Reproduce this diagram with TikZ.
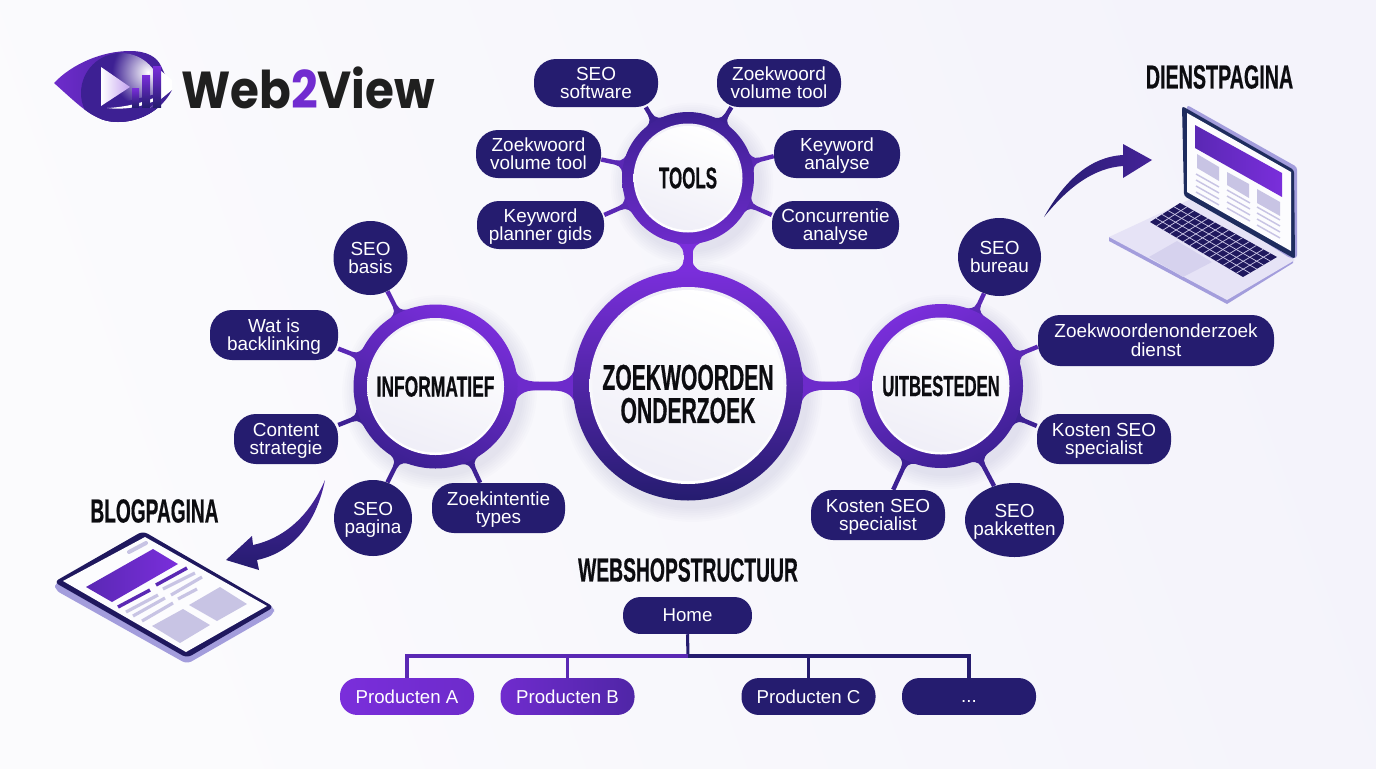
\documentclass[tikz,border=0pt]{standalone}
\usepackage{graphicx}
\usepackage{fontspec}
\usetikzlibrary{shapes.geometric,calc}
\setmainfont{Liberation Sans}
\newfontfamily\headfont[FakeStretch=0.6,BoldFeatures={FakeBold=0.5}]{Liberation Sans}
\newfontfamily\logofont[FakeStretch=0.9]{Poppins}
\definecolor{navy}{HTML}{251C6F}
\definecolor{vio}{HTML}{7A2EDB}
\definecolor{midv}{HTML}{5A28B4}
\definecolor{darkv}{HTML}{3D2093}
\definecolor{ink}{HTML}{0C0C10}
\definecolor{lidnavy}{HTML}{1E2C5E}
\definecolor{lav}{HTML}{C8C4E4}
\definecolor{bga}{HTML}{FBFBFD}
\definecolor{bgb}{HTML}{F4F3FB}
\definecolor{deck}{HTML}{E6E3F6}
\definecolor{pad}{HTML}{D6D2EE}
\definecolor{rim}{HTML}{A39DDC}
\pgfdeclarelayer{bottom}
\pgfdeclarelayer{background}
\pgfsetlayers{bottom,background,main}
% two centred lines whose box is measured on cap height only
\newcommand\lf[2]{\vphantom{A}\smash{\makebox[0pt]{#1}}\\\smash{\makebox[0pt]{#2}}}
\tikzset{
  leafbox/.style n args={2}{rectangle,rounded corners=16.5pt,fill=navy,text=white,inner sep=0pt,
    minimum width=#1*0.75pt,minimum height=#2*0.75pt,align=center,
    font=\fontsize{14.2pt}{13.9pt}\selectfont},
  leafoval/.style n args={2}{ellipse,fill=navy,text=white,inner sep=0pt,
    minimum width=#1*0.75pt,minimum height=#2*0.75pt,align=center,
    font=\fontsize{14.2pt}{13.9pt}\selectfont},
  hubring/.style={circle,inner sep=0pt,minimum size=#1*1.5pt},
  hubdisc/.style={circle,inner sep=0pt,minimum size=#1*1.5pt,top color=white,bottom color=white!72!lav,
    shading angle=-20,text=ink,align=center},
  headtext/.style={text=ink,inner sep=0pt,align=center,font=\headfont\bfseries\fontsize{#1pt}{#1pt}\selectfont},
  treeline/.style={line width=2.3pt},
  treebox/.style={rectangle,rounded corners=13pt,inner sep=0pt,minimum width=100.5pt,minimum height=27.7pt,text=white,
    font=\fontsize{14pt}{14pt}\selectfont},
}
% hub, leaf, anchor angle, ring radius, half width, flare, length, colour
\newcommand\hublink[8]{%
  \pgfmathanglebetweenpoints{\pgfpointanchor{#1}{center}}{\pgfpointanchor{#2}{#3}}%
  \let\linkang\pgfmathresult
  \pgfmathsetmacro\sx{sqrt((#4)*(#4)-(#6)*(#6))-0.6}%
  \pgfmathsetmacro\kk{(#6-#5)*0.55}%
  \pgfmathsetmacro\cx{\sx+\kk*(#6)/(#4)}%
  \pgfmathsetmacro\cy{#6-\kk*\sx/(#4)}%
  \pgfmathsetmacro\dx{#4+#7*0.2}%
  \pgfmathsetmacro\ex{#4+#7}%
  \draw[#8,line width=#5*1.5pt] (#1.center) -- (#2.#3);
  \begin{scope}[shift={(#1.center)},rotate=\linkang]
    \fill[#8] (\sx,{-#6}) .. controls (\cx,{-\cy}) and (\dx,{-#5}) .. (\ex,{-#5})
      -- (\ex,{#5}) .. controls (\dx,{#5}) and (\cx,\cy) .. (\sx,{#6}) -- cycle;
  \end{scope}}
\newcommand\softshadow[2]{%
  \foreach \k in {1,...,7}{\fill[navy,opacity=0.012] ($(#1.center)+(4,6)$) circle[radius={#2+\k*2.2}];}}
\begin{document}
\begin{tikzpicture}[x=0.75pt,y=-0.75pt]
\useasboundingbox (0,0) rectangle (1376,768);
\begin{pgfonlayer}{bottom}
  \shade[left color=bga,right color=bgb,shading angle=110] (0,0) rectangle (1376,768);
\end{pgfonlayer}

% ---------- hubs
\node[hubring=115,top color=vio,bottom color=navy] (center) at (688,385.5) {};
\node[hubring=66,top color=darkv,bottom color=vio!85!navy] (tools) at (688,178) {};
\node[hubring=82,top color=vio,bottom color=darkv,shading angle=-25] (info) at (435.5,386.5) {};
\node[hubring=82,top color=vio,bottom color=darkv,shading angle=25] (uit) at (941,386) {};
\foreach \h/\r in {center/98.5,tools/54.5,info/68.5,uit/68.5}{
  \shade[top color=white!72!lav,bottom color=white] (\h.center) circle[radius=\r];
}
\node[hubdisc=95.5] (centerdisc) at (center.center) {};
\node[headtext=27,inner sep=0pt,font=\headfont\bfseries\fontsize{27pt}{24.8pt}\selectfont] (centerlabel) at (688,394) {\scalebox{.977}[1]{ZOEKWOORDEN}\\\scalebox{.977}[1]{ONDERZOEK}};
\node[hubdisc=52,font=\headfont\bfseries\fontsize{22.5pt}{22pt}\selectfont] (toolsdisc) at (tools.center) {\scalebox{.94}[1]{TOOLS}};
\node[hubdisc=66,font=\headfont\bfseries\fontsize{21.8pt}{22pt}\selectfont] (infodisc) at (info.center) {INFORMATIEF};
\node[hubdisc=66,font=\headfont\bfseries\fontsize{21.8pt}{22pt}\selectfont] (uitdisc) at (uit.center) {\scalebox{.955}[1]{UITBESTEDEN}};

% ---------- leaves: tools
\node[leafbox={124}{48}] (a1) at (596,83) {\lf{SEO}{software}};
\node[leafbox={124}{48}] (a2) at (779,83) {\lf{Zoekwoord}{volume tool}};
\node[leafbox={125}{48}] (a3) at (538.5,154) {\lf{Zoekwoord}{volume tool}};
\node[leafbox={126}{48}] (a4) at (837,154) {\lf{Keyword}{analyse}};
\node[leafbox={127}{48}] (a5) at (540.5,225) {\lf{Keyword}{planner gids}};
\node[leafbox={127}{48}] (a6) at (835.5,225) {\lf{Concurrentie}{analyse}};
% ---------- leaves: informatief
\node[leafoval={74}{74}] (b1) at (370.5,258) {\lf{SEO}{basis}};
\node[leafbox={128}{50}] (b2) at (274,335) {\lf{Wat is}{backlinking}};
\node[leafbox={104}{50}] (b3) at (286,439) {\lf{Content}{strategie}};
\node[leafoval={78}{76}] (b4) at (373,518) {\lf{SEO}{pagina}};
\node[leafbox={133}{50}] (b5) at (498.5,508) {\lf{Zoekintentie}{types}};
% ---------- leaves: uitbesteden
\node[leafoval={83}{78}] (c1) at (999.5,257) {\lf{SEO}{bureau}};
\node[leafbox={236}{51}] (c2) at (1156,340.5) {\lf{Zoekwoordenonderzoek}{dienst}};
\node[leafbox={134}{50}] (c3) at (1104,439) {\lf{Kosten SEO}{specialist}};
\node[leafbox={134}{50}] (c4) at (878,515) {\lf{Kosten SEO}{specialist}};
\node[leafoval={99}{74}] (c5) at (1014.5,520) {\lf{SEO}{pakketten}};

\begin{pgfonlayer}{background}
  \softshadow{center}{115}\softshadow{tools}{66}\softshadow{info}{82}\softshadow{uit}{82}
  \hublink{center}{tools}{south}{115}{4.5}{20}{11}{vio}
  \hublink{tools}{center}{north}{66}{4.5}{17}{11}{vio}
  \hublink{center}{info}{east}{115}{4}{20}{22}{vio!85!navy}
  \hublink{center}{uit}{west}{115}{4}{20}{22}{vio!85!navy}
  \hublink{info}{center}{west}{82}{4}{18}{22}{vio!85!navy}
  \hublink{uit}{center}{east}{82}{4}{18}{22}{vio!85!navy}
  \hublink{tools}{a1}{-26}{66}{2.2}{13}{8}{darkv}
  \hublink{tools}{a2}{-153}{66}{2.2}{13}{8}{darkv}
  \hublink{tools}{a3}{-5}{66}{2.2}{13}{8}{midv}
  \hublink{tools}{a4}{-178}{66}{2.2}{13}{8}{midv}
  \hublink{tools}{a5}{9}{66}{2.2}{13}{8}{midv}
  \hublink{tools}{a6}{171}{66}{2.2}{13}{8}{midv}
  \hublink{info}{b1}{-63}{82}{2.2}{14}{8}{midv}
  \hublink{info}{b2}{-12}{82}{2.2}{14}{8}{midv}
  \hublink{info}{b3}{15}{82}{2.2}{14}{8}{darkv}
  \hublink{info}{b4}{68}{82}{2.2}{14}{8}{darkv}
  \hublink{info}{b5}{126}{82}{2.2}{14}{8}{darkv}
  \hublink{uit}{c1}{-113}{82}{2.2}{14}{8}{midv}
  \hublink{uit}{c2}{-177}{82}{2.2}{14}{8}{midv}
  \hublink{uit}{c3}{169}{82}{2.2}{14}{8}{darkv}
  \hublink{uit}{c4}{59}{82}{2.2}{14}{8}{darkv}
  \hublink{uit}{c5}{121}{82}{2.2}{14}{8}{darkv}
\end{pgfonlayer}

% ---------- headings
\node[headtext=25] (dienst) at (1219.5,77) {\scalebox{.985}[1]{DIENSTPAGINA}};
\node[headtext=25] (blog) at (154.5,511) {\scalebox{.955}[1]{BLOGPAGINA}};
\node[headtext=25] (webshop) at (688,570) {\scalebox{.965}[1]{WEBSHOPSTRUCTUUR}};

% ---------- webshop tree
\node[treebox,fill=navy,minimum width=96.7pt] (home) at (687.5,615.5) {Home};
\node[treebox,left color=vio,right color=vio!85!navy] (pa) at (407,696.5) {Producten A};
\node[treebox,left color=vio!88!navy,right color=midv!80!navy] (pb) at (567.5,696.5) {Producten B};
\node[treebox,fill=navy] (pc) at (808.5,696.5) {Producten C};
\node[treebox,fill=navy] (pd) at (969,696.5) {\vphantom{A}...};
\coordinate (busy) at (688,656);
\begin{pgfonlayer}{background}
  \draw[treeline,navy] (home.south) -- (busy);
  \draw[treeline,navy] (busy) -| (pc.north);
  \draw[treeline,navy] (busy) -| (pd.north);
  \draw[treeline,midv] (busy) -| (pa.north);
  \draw[treeline,midv] (busy) -| (pb.north);
\end{pgfonlayer}

% ---------- logo
\begin{scope}
  \shade[left color=vio!85!navy,right color=darkv]
    (54,83) .. controls (72,64) and (102,51) .. (130,51) .. controls (147,51) and (157,57) .. (161,66)
    -- (172,90) .. controls (162,110) and (140,122) .. (118,122) .. controls (95,122) and (82,108) .. (54,83) -- cycle;
  \begin{scope}
    \clip (121,93) circle[radius=40];
    \clip (54,83) .. controls (72,64) and (102,51) .. (130,51) .. controls (147,51) and (157,57) .. (161,66)
      -- (172,90) .. controls (162,110) and (140,122) .. (118,122) .. controls (95,122) and (82,108) .. (54,83) -- cycle;
    \fill[darkv] (70,40) rectangle (175,130);
    \shade[inner color=white,outer color=darkv] (148,72) circle[radius=36];
    \fill[darkv] (172,90) -- (172,125) -- (100,125) -- (100,108) -- cycle;
  \end{scope}
  \fill[white] (173,88) .. controls (158,104) and (130,111) .. (107,108) .. controls (130,107) and (155,100) .. (173,88) -- cycle;
  \fill[white] (150,108) -- (172,90) -- (172,80) -- (160,70) -- (160,100) -- cycle;
  \shade[left color=white,right color=white!55!vio] (101,67) -- (130,87) -- (101,106) -- cycle;
  \shade[top color=vio,bottom color=navy] (132,88) rectangle (139,107);
  \shade[top color=vio,bottom color=navy] (142,75) rectangle (150,107);
  \shade[top color=vio,bottom color=navy] (153,66) rectangle (161,107);
\end{scope}
\node[inner sep=0pt,anchor=west,text=black!88,font=\logofont\bfseries\fontsize{39pt}{39pt}\selectfont] (logo) at (181,88) {Web{\color{vio!90!navy}2}View};

% ---------- laptop
\fill[rim] (1109,237) -- (1109,241) -- (1227,304) -- (1293,263) -- (1293,258) -- cycle;
\fill[deck] (1193,198) -- (1109,237) -- (1227,300) -- (1295,260) -- cycle;
\fill[navy!85!black] (1180,203) -- (1150,222) -- (1243,277) -- (1277,257) -- cycle;
\foreach \t in {0.0714,0.1429,...,0.95}{\draw[lav,line width=.55pt] ({1150+93*\t},{222+55*\t}) -- ({1180+97*\t},{203+54*\t});}
\foreach \s in {0.2,0.4,0.6,0.8}{\draw[lav,line width=.55pt] ({1150+30*\s},{222-19*\s}) -- ({1243+34*\s},{277-20*\s});}
\fill[pad] (1177,241) -- (1149,257) -- (1183,277) -- (1212,262) -- cycle;
\fill[rim,rounded corners=2pt] (1187,105) -- (1297,167) -- (1297,258) -- (1290,258) -- (1184,190) -- cycle;
\fill[lidnavy,rounded corners=2pt] (1182,106) -- (1294,170) -- (1295,259) -- (1184,196) -- cycle;
\fill[white!95!lav] (1187,113) -- (1291,172) -- (1291,251) -- (1187,192) -- cycle;
\shade[left color=midv,right color=vio] (1195,125) -- (1282,173) -- (1282,197) -- (1195,148) -- cycle;
\fill[lav] (1197,154) -- (1219,167) -- (1219,181) -- (1197,168) -- cycle;
\fill[lav] (1227,172) -- (1249,184) -- (1249,198) -- (1227,185) -- cycle;
\fill[lav] (1257,189) -- (1280,202) -- (1280,216) -- (1257,203) -- cycle;
\foreach \dy in {0,6,12,18}{
  \draw[lav,line width=1.1pt] (1196,174+\dy) -- (1219,187+\dy);
  \draw[lav,line width=1.1pt] (1227,190+\dy) -- (1250,203+\dy);
  \draw[lav,line width=1.1pt] (1257,207+\dy) -- (1280,220+\dy);
}
% arrow to laptop
\shade[left color=navy,right color=midv!60!navy] (1044,217) .. controls (1065,180) and (1090,157) .. (1123,155)
  -- (1123,144) -- (1152,160) -- (1123,178) -- (1123,166) .. controls (1095,168) and (1070,185) .. (1044,217) -- cycle;

% ---------- tablet
\fill[rim,rounded corners=4pt] (55,583) -- (55,590) -- (187,664) -- (274,614) -- (274,607) -- (143,532) -- cycle;
\fill[navy!85!black,rounded corners=4pt] (143,531) -- (54,582) -- (187,658) -- (274,607) -- cycle;
\fill[white!95!lav] (145,537) -- (63,581) -- (186,652) -- (267,606) -- cycle;
\shade[left color=midv,right color=vio] (153,549) -- (178,564) -- (112,602) -- (86,587) -- cycle;
\draw[lav,line width=3pt,line cap=round] (129,552) -- (146,543);
\draw[midv,line width=2.6pt] (156,585) -- (187,568);
\draw[midv,line width=2.6pt] (118,607) -- (150,590);
\foreach \a/\b/\c/\d in {163/589/195/573,171/595/202/577,178/599/197/589,126/612/158/595,133/616/165/598,142/621/173/603}{
  \draw[lav,line width=2.4pt] (\a,\b) -- (\c,\d);
}
\fill[lav] (220,587) -- (247,604) -- (217,621) -- (189,605) -- cycle;
\fill[lav] (183,609) -- (210,625) -- (180,643) -- (152,626) -- cycle;
% arrow to tablet
\shade[top color=midv!70!navy,bottom color=navy] (325,480) .. controls (317,520) and (295,552) .. (257,560)
  -- (259,570) -- (226,560) -- (252,536) -- (253,545) .. controls (285,538) and (310,515) .. (325,480) -- cycle;
\end{tikzpicture}
\end{document}
